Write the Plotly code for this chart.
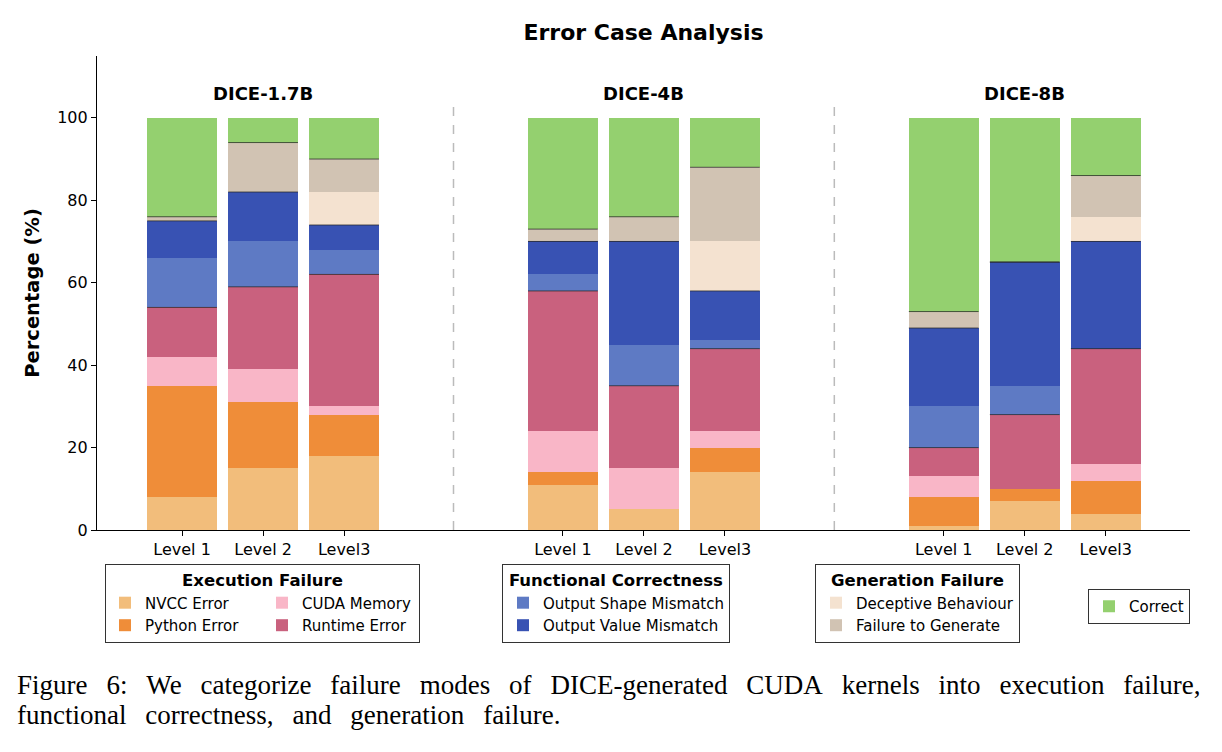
import plotly.graph_objects as go

# ---------------- data ----------------
models = ["DICE-1.7B", "DICE-4B", "DICE-8B"]
levels = ["Level 1", "Level 2", "Level3"]

nvcc_error = [8, 15, 18, 11, 5, 14, 1, 7, 4]
python_error = [27, 16, 10, 3, 0, 6, 7, 3, 8]
cuda_memory = [7, 8, 2, 10, 10, 4, 5, 0, 4]
runtime_error = [12, 20, 32, 34, 20, 20, 7, 18, 28]
shape_mismatch = [12, 11, 6, 4, 10, 2, 10, 7, 0]
value_mismatch = [9, 12, 6, 8, 25, 12, 19, 30, 26]
deceptive = [0, 0, 8, 0, 0, 12, 0, 0, 6]
failure_generate = [1, 12, 8, 3, 6, 18, 4, 0, 10]
correct = [24, 6, 10, 27, 24, 12, 47, 35, 14]

y_ticks = [0, 20, 40, 60, 80, 100]

caption_line1 = "Figure 6: We categorize failure modes of DICE-generated CUDA kernels into execution failure,"
caption_line2 = "functional correctness, and generation failure."

# ---------------- layout helpers ----------------
GROUP_STEP = 4.7
BAR_W = 0.86
xs = [g * GROUP_STEP + l for g in range(len(models)) for l in range(len(levels))]
xlabels = [lv for _ in models for lv in levels]

FONT = "DejaVu Sans"

series = [
    ("NVCC Error", nvcc_error, "#F2BD7B", "legend", "e1"),
    ("Python Error", python_error, "#EF8D39", "legend", "e1"),
    ("CUDA Memory", cuda_memory, "#F9B6C7", "legend", "e2"),
    ("Runtime Error", runtime_error, "#C9617E", "legend", "e2"),
    ("Output Shape Mismatch", shape_mismatch, "#5E7AC4", "legend2", "f"),
    ("Output Value Mismatch", value_mismatch, "#3852B3", "legend2", "f"),
    ("Deceptive Behaviour", deceptive, "#F4E2D0", "legend3", "g"),
    ("Failure to Generate", failure_generate, "#D1C3B3", "legend3", "g"),
    ("Correct", correct, "#94D06F", "legend4", "c"),
]

fig = go.Figure()
for name, vals, color, leg, grp in series:
    fig.add_trace(go.Bar(
        x=xs, y=vals, name=name, width=BAR_W,
        marker=dict(color=color, line=dict(width=0)),
        legend=leg, legendgroup=grp,
    ))

# thin boundary lines at the top of each failure category group
cum = [0] * len(xs)
boundaries = []
for name, vals, *_r in series:
    cum = [c + v for c, v in zip(cum, vals)]
    if name in ("Runtime Error", "Output Value Mismatch", "Failure to Generate"):
        boundaries.append(list(cum))
for bvals in boundaries:
    for x, yv in zip(xs, bvals):
        fig.add_shape(type="line", xref="x", yref="y",
                      x0=x - BAR_W / 2, x1=x + BAR_W / 2, y0=yv, y1=yv,
                      line=dict(color="rgba(40,40,40,0.75)", width=1))

# dashed separators between model groups
for g in range(len(models) - 1):
    xm = g * GROUP_STEP + (len(levels) - 1) + (GROUP_STEP - (len(levels) - 1)) / 2
    fig.add_shape(type="line", xref="x", yref="paper", x0=xm, x1=xm, y0=0, y1=0.9,
                  line=dict(color="#BBBBBB", width=1.5, dash="dash"))

# model titles
for g, m in enumerate(models):
    fig.add_annotation(x=g * GROUP_STEP + 1, y=0.92, xref="x", yref="paper",
                       text=f"<b>{m}</b>", showarrow=False,
                       font=dict(family=FONT, size=18, color="black"),
                       yanchor="middle")

# caption (wide justified-looking word spacing)
def widen(s):
    return s.replace(" ", "\u2002\u2009")

cap_font = dict(family="Liberation Serif", size=27, color="black")
fig.add_annotation(xref="paper", yref="paper", x=(15 - 97) / 1093, y=(530 - 685) / 474,
                   xanchor="left", yanchor="middle", showarrow=False, font=cap_font,
                   text=widen(caption_line1))
fig.add_annotation(xref="paper", yref="paper", x=(15 - 97) / 1093, y=(530 - 715) / 474,
                   xanchor="left", yanchor="middle", showarrow=False, font=cap_font,
                   text=widen(caption_line2))

leg_common = dict(
    bgcolor="white", bordercolor="#333333", borderwidth=1,
    font=dict(family=FONT, size=15, color="black"),
    yanchor="top", xanchor="left", traceorder="normal",
)
title_font = dict(family=FONT, size=16.5, color="black")
LEG_Y = (530 - 564) / 474

fig.update_layout(
    width=1222, height=752,
    margin=dict(l=97, r=32, t=56, b=222),
    paper_bgcolor="white", plot_bgcolor="white",
    barmode="stack", bargap=0,
    font=dict(family=FONT, size=16, color="black"),
    title=dict(text="<b>Error Case Analysis</b>", x=0.5, xref="paper",
               y=1 - 32 / 752, yref="container", yanchor="middle", xanchor="center",
               font=dict(family=FONT, size=22, color="black")),
    xaxis=dict(range=[-1.05, 12.44], tickmode="array", tickvals=xs, ticktext=xlabels,
               showline=True, linecolor="black", linewidth=1.2, ticks="outside",
               ticklen=5, tickcolor="black", showgrid=False, zeroline=False,
               tickfont=dict(family=FONT, size=16)),
    yaxis=dict(range=[0, 115], tickmode="array", tickvals=y_ticks,
               showline=True, linecolor="black", linewidth=1.2, ticks="outside",
               ticklen=5, tickcolor="black", showgrid=False, zeroline=False,
               tickfont=dict(family=FONT, size=16),
               title=dict(text="<b>Percentage (%)</b>", standoff=12,
                          font=dict(family=FONT, size=19.5))),
    legend=dict(**leg_common, x=(105 - 97) / 1093, y=LEG_Y,
                orientation="h", entrywidth=112,
                title=dict(text="<b>Execution Failure</b>", side="top center", font=title_font)),
    legend2=dict(**leg_common, x=(502 - 97) / 1093, y=LEG_Y,
                 orientation="v",
                 title=dict(text="<b>Functional Correctness</b>", side="top center", font=title_font)),
    legend3=dict(**leg_common, x=(815 - 97) / 1093, y=LEG_Y,
                 orientation="v",
                 title=dict(text="<b>Generation Failure</b>", side="top center", font=title_font)),
    legend4=dict(bgcolor="white", bordercolor="#333333", borderwidth=1,
                 font=dict(family=FONT, size=15, color="black"),
                 x=1.0, xanchor="right", y=(530 - 589) / 474, yanchor="top",
                 orientation="v"),
    showlegend=True,
)
fig.update_layout(legend_traceorder="grouped")

fig.write_html("out.html")
